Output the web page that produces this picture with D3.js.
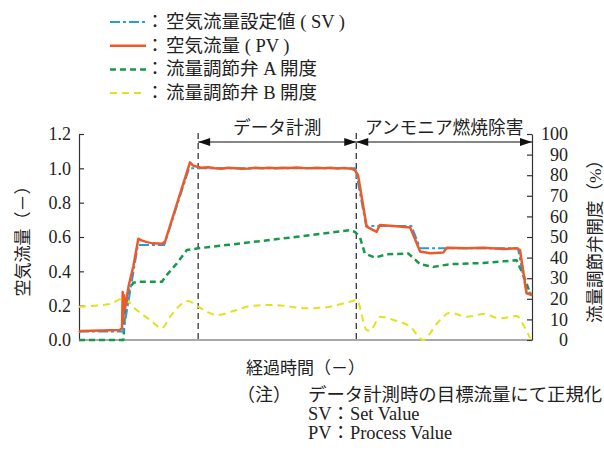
<!DOCTYPE html>
<html>
<head>
<meta charset="utf-8">
<script src="https://cdn.jsdelivr.net/npm/d3@7"></script>
<style>
  body { margin: 0; background: #fff; }
  svg text { font-family: "Liberation Serif", "Noto Sans CJK JP", serif; fill: #222; }
</style>
</head>
<body>
<svg id="chart" width="604" height="452"></svg>
<script>
// Elapsed time (relative units) and axis ticks
const timeDomain = [0, 100];
const flowTicks = [0, 0.2, 0.4, 0.6, 0.8, 1.0, 1.2];
const openTicks = [0, 10, 20, 30, 40, 50, 60, 70, 80, 90, 100];

// Air flow set value (SV), normalized
const setValue = [
  [0, 0.05], [9.8, 0.05], [13.0, 0.553], [18.8, 0.553], [24.3, 1.0],
  [61.0, 1.0], [63.4, 0.664], [73.4, 0.664], [75.3, 0.534], [96.9, 0.534],
  [98.8, 0.275], [100, 0.275]
];

// Air flow process value (PV), normalized
const processValue = [
  [0, 0.045], [0.4, 0.052], [5, 0.055], [9.0, 0.058], [9.5, 0.068],
  [9.65, 0.28], [9.8, 0.11], [9.95, 0.26], [10.15, 0.18], [11.0, 0.32],
  [12.0, 0.43], [13.1, 0.59], [13.8, 0.58], [15.0, 0.57], [16.3, 0.563],
  [18.3, 0.56], [19.0, 0.573], [24.5, 1.035], [25.2, 1.016], [26.3, 1.008],
  [27.0, 1.004], [28.5, 1.006], [30.0, 1.001], [31.5, 0.998], [33.0, 1.003],
  [34.5, 1.000], [36.0, 0.997], [37.5, 0.999], [39.0, 1.004], [40.5, 1.001],
  [42.0, 1.003], [43.5, 1.000], [45.0, 1.004], [46.5, 1.002], [48.0, 1.005],
  [49.5, 1.002], [51.0, 1.000], [52.5, 1.004], [54.0, 1.001], [55.5, 1.003],
  [57.0, 0.999], [58.5, 1.002], [60.0, 0.998], [60.9, 0.99], [61.6, 0.96],
  [63.5, 0.66], [65.7, 0.63], [66.4, 0.67], [69.4, 0.664], [73.1, 0.656],
  [75.3, 0.515], [77.5, 0.505], [80.4, 0.509], [81.2, 0.538], [85.6, 0.534],
  [89.3, 0.538], [93.7, 0.530], [96.6, 0.534], [97.35, 0.524], [98.8, 0.272],
  [100, 0.262]
];

// Flow control valve A opening (%)
const valveA = [
  [0, 0], [9.8, 0], [10.15, 14.6], [10.9, 24], [12.0, 27.8], [13.1, 28.3],
  [18.3, 28.3], [19.4, 31.6], [21.6, 37.2], [23.8, 43.7], [26.3, 44.5],
  [33.0, 46.2], [40.0, 48.0], [50.0, 50.6], [59.8, 53.3], [60.9, 52.5],
  [62.0, 50], [63.1, 42], [65.3, 40], [67.9, 41.6], [72.7, 42], [75.3, 36.8],
  [78.2, 35.5], [81.9, 36.8], [89.3, 37.4], [93.7, 38.2], [96.6, 38.7],
  [98.1, 31.5], [99.6, 22.6], [100, 21.5]
];

// Flow control valve B opening (%)
const valveB = [
  [0, 16.2], [6.8, 17.5], [9.8, 20.2], [12.7, 14.6], [15.7, 9.7], [18.3, 5.7],
  [20.1, 11.3], [24.1, 18.9], [26.3, 16.2], [28.2, 13.8], [30.4, 12.1],
  [34.8, 14.6], [37.8, 16.5], [42.8, 17.0], [50.3, 15.4], [53.9, 15.7],
  [59.8, 18.6], [61.3, 19.4], [63.5, 4.8], [64.2, 4.5], [66.5, 11.3],
  [69.4, 9.7], [73.1, 6.5], [76.0, 0], [79.0, 8], [81.9, 13.2], [85.6, 11.3],
  [89.3, 12.6], [92.9, 10.5], [96.6, 11.6], [98.1, 7.3], [99.6, 0.8]
];

// Operating phases
const phaseNames = ["データ計測", "アンモニア燃焼除害"];
const phaseStart = [26.3, 61.2];
const phaseEnd = [61.2, 100];

// Legend entries
const legendLabels = ["空気流量設定値 ( SV )", "空気流量 ( PV )", "流量調節弁 A 開度", "流量調節弁 B 開度"];

// Footnotes
const noteLines = ["データ計測時の目標流量にて正規化", "SV：Set Value", "PV：Process Value"];

const svg = d3.select("#chart");
const plot = { left: 79, right: 532, top: 134, bottom: 340 };

const x = d3.scaleLinear().domain(timeDomain).range([plot.left, plot.right]);
const yFlow = d3.scaleLinear().domain([0, 1.2]).range([plot.bottom, plot.top]);
const yOpen = d3.scaleLinear().domain([0, 100]).range([plot.bottom, plot.top]);

const styles = [
  { color: "#1f9fe0", width: 2, dash: "10,3,3,3" },
  { color: "#ec5a2a", width: 2.5, dash: null },
  { color: "#17994a", width: 2.5, dash: "6,4" },
  { color: "#e2e21c", width: 2, dash: "7,5" }
];

// Axes
const leftAxis = d3.axisLeft(yFlow).tickValues(flowTicks)
  .tickFormat(d3.format(".1f")).tickSizeInner(-5).tickSizeOuter(0).tickPadding(8);
const gl = svg.append("g").attr("transform", `translate(${plot.left},0)`).call(leftAxis);
gl.selectAll("text").style("font-size", "18px");

const rightAxis = d3.axisRight(yOpen).tickValues(openTicks)
  .tickSizeInner(-5).tickSizeOuter(0).tickPadding(0);
const gr = svg.append("g").attr("transform", `translate(${plot.right},0)`).call(rightAxis);
gr.selectAll("text").style("font-size", "18px").attr("text-anchor", "end").attr("x", 36);

svg.append("line")
  .attr("x1", plot.left).attr("x2", plot.right)
  .attr("y1", plot.bottom).attr("y2", plot.bottom)
  .attr("stroke", "#555").attr("stroke-width", 1.2);

[gl, gr].forEach(g => {
  g.selectAll("path.domain").attr("stroke", "#333").attr("stroke-width", 1.2);
  g.selectAll(".tick line").attr("stroke", "#333").attr("stroke-width", 1.2);
});

// Phase boundaries
const bounds = [phaseStart[0], phaseStart[1]];
svg.selectAll("line.bound").data(bounds).enter().append("line")
  .attr("x1", d => x(d)).attr("x2", d => x(d))
  .attr("y1", plot.top - 1).attr("y2", plot.bottom)
  .attr("stroke", "#111").attr("stroke-width", 1.1).attr("stroke-dasharray", "6,4");

// Series
const flowLine = d3.line().x(d => x(d[0])).y(d => yFlow(d[1]));
const openLine = d3.line().x(d => x(d[0])).y(d => yOpen(d[1]));
const openCurve = d3.line().x(d => x(d[0])).y(d => yOpen(d[1])).curve(d3.curveMonotoneX);

const series = [
  { path: openCurve(valveB), s: styles[3] },
  { path: openLine(valveA), s: styles[2] },
  { path: flowLine(setValue), s: styles[0] },
  { path: flowLine(processValue), s: styles[1] }
];
series.forEach(o => {
  svg.append("path").attr("d", o.path).attr("fill", "none")
    .attr("stroke", o.s.color).attr("stroke-width", o.s.width)
    .attr("stroke-dasharray", o.s.dash).attr("stroke-linejoin", "round");
});

// Phase arrows and labels
const arrowY = 142;
function arrowHead(px, dir) {
  const L = 12, H = 4;
  return `M${px},${arrowY}L${px - dir * L},${arrowY - H}L${px - dir * L},${arrowY + H}Z`;
}
phaseNames.forEach((name, i) => {
  const x0 = x(phaseStart[i]), x1 = x(phaseEnd[i]);
  svg.append("line").attr("x1", x0).attr("x2", x1).attr("y1", arrowY).attr("y2", arrowY)
    .attr("stroke", "#111").attr("stroke-width", 1.1);
  svg.append("path").attr("d", arrowHead(x0, -1)).attr("fill", "#111");
  svg.append("path").attr("d", arrowHead(x1, 1)).attr("fill", "#111");
  svg.append("text").attr("x", (x0 + x1) / 2).attr("y", 128)
    .attr("text-anchor", "middle").attr("dominant-baseline", "central")
    .style("font-size", "17.7px").text(name);
});

// Axis titles
svg.append("text")
  .attr("transform", `translate(23,${(plot.top + plot.bottom) / 2}) rotate(-90)`)
  .attr("text-anchor", "middle").attr("dominant-baseline", "central")
  .style("font-size", "17px").text("空気流量（－）");
svg.append("text")
  .attr("transform", `translate(595,${(plot.top + plot.bottom) / 2}) rotate(-90)`)
  .attr("text-anchor", "middle").attr("dominant-baseline", "central")
  .style("font-size", "17.5px").text("流量調節弁開度（%）");
svg.append("text")
  .attr("x", (plot.left + plot.right) / 2).attr("y", 368)
  .attr("text-anchor", "middle").attr("dominant-baseline", "central")
  .style("font-size", "17px").text("経過時間（－）");

// Legend
const legend = svg.append("g");
legendLabels.forEach((label, i) => {
  const ly = 22 + i * 23.7;
  const s = styles[i];
  legend.append("line").attr("x1", 110).attr("x2", 146).attr("y1", ly).attr("y2", ly)
    .attr("stroke", s.color).attr("stroke-width", s.width).attr("stroke-dasharray", s.dash);
  legend.append("text").attr("x", 155).attr("y", ly).attr("text-anchor", "middle")
    .attr("dominant-baseline", "central").style("font-size", "18px").text("：");
  legend.append("text").attr("x", 166).attr("y", ly)
    .attr("dominant-baseline", "central").style("font-size", "18.5px").text(label);
});

// Footnotes
svg.append("text").attr("x", 237).attr("y", 395).attr("dominant-baseline", "central")
  .style("font-size", "18px").text("（注）");
noteLines.forEach((t, i) => {
  svg.append("text").attr("x", 308).attr("y", 395 + i * 19)
    .attr("dominant-baseline", "central").style("font-size", "18.4px").text(t);
});
</script>
</body>
</html>
